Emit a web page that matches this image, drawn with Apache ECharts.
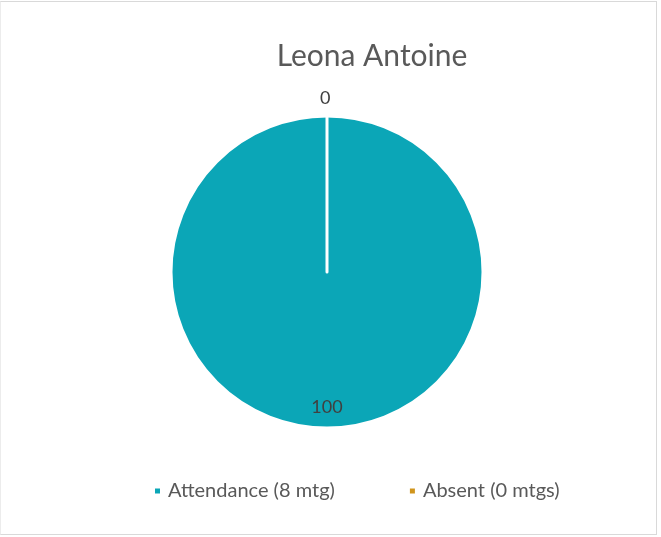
<!DOCTYPE html>
<html><head><meta charset="utf-8">
<script src="https://cdn.jsdelivr.net/npm/echarts@6/dist/echarts.min.js"></script>
<style>
html,body{margin:0;padding:0;background:#fff;}
#frame{position:absolute;left:0;top:1px;width:657px;height:534px;border:1px solid #d9d9d9;border-left-color:#ececec;box-sizing:border-box;}
#chart{position:absolute;left:0;top:0;width:661px;height:537px;}
</style></head>
<body>
<div id="frame"></div>
<div id="chart"></div>
<script>
const titleText = 'Leona Antoine';
const categories = ['Attendance (8 mtg)', 'Absent (0 mtgs)'];
const values = [100, 0];
const colors = ['#0ba6b7', '#d0951c'];

const chart = echarts.init(document.getElementById('chart'), null, {renderer: 'canvas'});
const FONT = 'Lato';
const data = categories.map((c, i) => {
  const item = {name: c, value: values[i], itemStyle: {color: colors[i]}};
  if (i === 0) {
    item.label = {position: 'inside', offset: [0, 54]};
  } else {
    item.label = {position: 'outside', offset: [-12, 0]};
  }
  return item;
});
chart.setOption({
  backgroundColor: 'transparent',
  animation: false,
  title: {
    text: titleText,
    left: 367, top: 36, textAlign: 'center',
    textStyle: {fontFamily: FONT, fontSize: 30, fontWeight: 'normal', color: '#595959'}
  },
  legend: {
    left: 153, top: 481, padding: 0,
    icon: 'rect', itemWidth: 7, itemHeight: 7, itemGap: 73,
    textStyle: {fontFamily: FONT, fontSize: 20, color: '#595959', padding: [0, 0, 0, 2]},
    selectedMode: false,
    data: categories
  },
  series: [{
    type: 'pie',
    center: [327, 272],
    radius: [0, 156],
    startAngle: 90,
    clockwise: true,
    avoidLabelOverlap: false,
    itemStyle: {borderColor: '#ffffff', borderWidth: 3},
    label: {
      show: true,
      formatter: '{c}',
      fontFamily: FONT, fontSize: 18, color: '#404040'
    },
    labelLine: {show: false, length: 18, length2: 0},
    emphasis: {disabled: true},
    data: data
  }]
});
</script>
</body></html>
